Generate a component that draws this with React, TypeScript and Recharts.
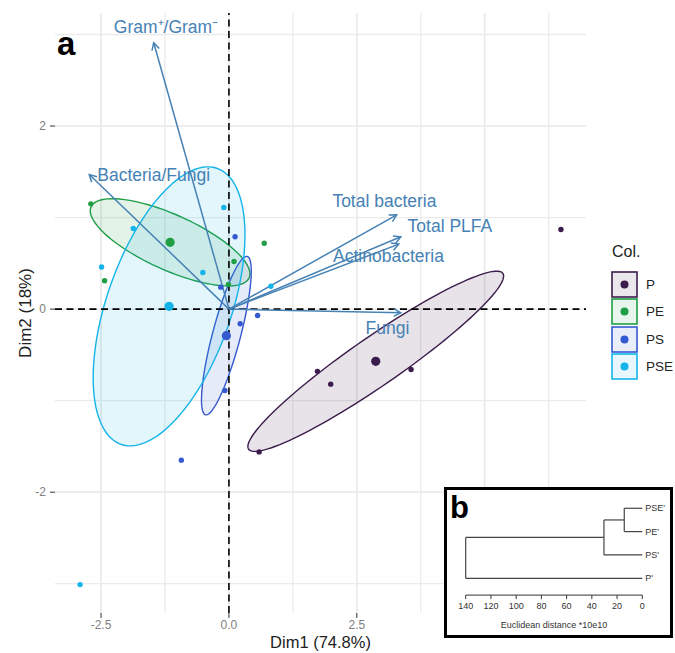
import React from "react";
import { ScatterChart, Scatter, XAxis, YAxis, ReferenceLine, Legend } from "recharts";

const FONT = '"Liberation Sans", Arial, sans-serif';

const groups = ["P", "PE", "PS", "PSE"];
const groupColors = ["#3b1c4c", "#1f9e45", "#3559d0", "#14b4ea"];

// individual scores, Dim1 / Dim2
const pDim1 = [6.49, 1.73, 1.99, 3.56, 0.59];
const pDim2 = [0.87, -0.68, -0.82, -0.66, -1.56];
const peDim1 = [-2.7, -2.43, 0.69, 0.1, -0.01];
const peDim2 = [1.15, 0.31, 0.72, 0.52, 0.27];
const psDim1 = [0.12, -0.16, 0.56, 0.22, -0.08, -0.93];
const psDim2 = [0.79, 0.24, -0.07, -0.16, -0.89, -1.65];
const pseDim1 = [-0.1, -1.87, -2.49, -0.51, 0.82, -2.91];
const pseDim2 = [1.11, 0.88, 0.46, 0.4, 0.25, -3.01];

// group centroids
const meanDim1 = [2.87, -1.15, -0.05, -1.17];
const meanDim2 = [-0.57, 0.73, -0.29, 0.03];

// concentration ellipses (semi axes + rotation in degrees)
const ellA = [2.67, 1.6, 0.96, 1.85];
const ellB = [0.3, 0.32, 0.255, 1.05];
const ellAngle = [20.7, -13, 63.4, 46.5];

// variables (arrow tips) and where their labels sit
const varNames = ["Gram⁺/Gram⁻", "Bacteria/Fungi", "Total bacteria", "Total PLFA", "Actinobacteria", "Fungi"];
const varDim1 = [-1.47, -2.73, 3.28, 3.36, 3.32, 3.36];
const varDim2 = [2.91, 1.47, 1.03, 0.79, 0.71, -0.04];
const labDim1 = [-1.23, -1.47, 3.04, 4.32, 3.12, 3.1];
const labDim2 = [3.08, 1.47, 1.18, 0.91, 0.58, -0.2];

const xTicks = [-2.5, 0, 2.5, 5];
const yTicks = [-2, 0, 2];
const xMajor = [-2.5, 0, 2.5, 5];
const xMinor = [-1.25, 1.25, 3.75, 6.25];
const yMajor = [-2, 0, 2];
const yMinor = [-3, -1, 1, 3];

// dendrogram (hclust style merge table)
const leaves = ["PSE'", "PE'", "PS'", "P'"];
const merge = [[-1, -2], [1, -3], [2, -4]];
const heights = [14.3, 30.4, 140];
const distTicks = [0, 20, 40, 60, 80, 100, 120, 140];

const scores = [
  pDim1.map((x, i) => ({ x, y: pDim2[i] })),
  peDim1.map((x, i) => ({ x, y: peDim2[i] })),
  psDim1.map((x, i) => ({ x, y: psDim2[i] })),
  pseDim1.map((x, i) => ({ x, y: pseDim2[i] })),
];

const ellipse = (i: number) => {
  const th = (ellAngle[i] * Math.PI) / 180;
  const pts = [];
  for (let k = 0; k <= 120; k++) {
    const t = (k / 120) * 2 * Math.PI;
    const u = ellA[i] * Math.cos(t);
    const v = ellB[i] * Math.sin(t);
    pts.push({
      x: meanDim1[i] + u * Math.cos(th) - v * Math.sin(th),
      y: meanDim2[i] + u * Math.sin(th) + v * Math.cos(th),
    });
  }
  return pts;
};

const labels = varNames.map((label, i) => ({ x: labDim1[i], y: labDim2[i], label }));

// dendrogram segments
const leafY = (id: number) => leaves.length - (-id - 1);
const mergeY: number[] = [];
const dendroSegs: { x: number; y: number }[][] = [];
merge.forEach(([a, b], k) => {
  const h = heights[k];
  const ya = a < 0 ? leafY(a) : mergeY[a - 1];
  const yb = b < 0 ? leafY(b) : mergeY[b - 1];
  const ha = a < 0 ? 0 : heights[a - 1];
  const hb = b < 0 ? 0 : heights[b - 1];
  mergeY[k] = (ya + yb) / 2;
  dendroSegs.push([{ x: ha, y: ya }, { x: h, y: ya }]);
  dendroSegs.push([{ x: hb, y: yb }, { x: h, y: yb }]);
  dendroSegs.push([{ x: h, y: ya }, { x: h, y: yb }]);
});
const leafPts = leaves.map((name, i) => ({ x: 0, y: leaves.length - i, name }));

const ARROW = "#4682b4";

const arrowShape = (p: any) => {
  const { x1, y1, x2, y2 } = p;
  const ang = Math.atan2(y2 - y1, x2 - x1);
  const len = 8;
  const a1 = ang + Math.PI - 0.5;
  const a2 = ang + Math.PI + 0.5;
  return (
    <g stroke={ARROW} strokeWidth={1.5} fill="none">
      <line x1={x1} y1={y1} x2={x2} y2={y2} />
      <polyline
        points={`${x2 + len * Math.cos(a1)},${y2 + len * Math.sin(a1)} ${x2},${y2} ${x2 + len * Math.cos(a2)},${y2 + len * Math.sin(a2)}`}
      />
    </g>
  );
};

const renderLegend = () => (
  <div style={{ position: "relative", width: 65, height: 145, fontFamily: FONT, color: "#222" }}>
    <div style={{ position: "absolute", left: 2, top: 3, fontSize: 16 }}>Col.</div>
    {groups.map((g, i) => (
      <div
        key={g}
        style={{ position: "absolute", left: 1, top: 30.5 + i * 27.6, display: "flex", alignItems: "center" }}
      >
        <svg width={27} height={27}>
          <rect x={1} y={1} width={25} height={25} fill={groupColors[i]} fillOpacity={0.1} stroke={groupColors[i]} strokeWidth={1.6} />
          <circle cx={13.5} cy={13.5} r={4} fill={groupColors[i]} />
        </svg>
        <span style={{ marginLeft: 8, fontSize: 13.5, whiteSpace: "nowrap" }}>{g}</span>
      </div>
    ))}
  </div>
);

export default function App() {
  return (
    <div style={{ position: "absolute", left: 0, top: 0, width: 675, height: 653, background: "#fff", fontFamily: FONT, overflow: "hidden" }}>
      <ScatterChart width={675} height={653} margin={{ top: 13, right: 89, bottom: 0, left: 0 }}>
        <XAxis
          type="number"
          dataKey="x"
          domain={[-3.4, 6.98]}
          allowDataOverflow
          ticks={xTicks}
          tickFormatter={(v: number) => v.toFixed(1)}
          axisLine={false}
          tickLine={{ stroke: "#333" }}
          tickSize={5}
          tick={{ fill: "#7f7f7f", fontSize: 12, fontFamily: FONT }}
          height={40}
          label={{
            content: (p: any) => (
              <text x={p.viewBox.x + p.viewBox.width / 2} y={648} textAnchor="middle" fontSize={16.5} fill="#222" fontFamily={FONT}>
                Dim1 (74.8%)
              </text>
            ),
          }}
        />
        <YAxis
          type="number"
          dataKey="y"
          domain={[-3.32, 3.235]}
          allowDataOverflow
          ticks={yTicks}
          axisLine={false}
          tickLine={{ stroke: "#333" }}
          tickSize={5}
          tickMargin={4}
          tick={{ fill: "#7f7f7f", fontSize: 12, fontFamily: FONT }}
          width={55}
          label={{
            content: (p: any) => {
              const cy = p.viewBox.y + p.viewBox.height / 2;
              return (
                <text x={31} y={cy} transform={`rotate(-90 31 ${cy})`} textAnchor="middle" fontSize={17} fill="#222" fontFamily={FONT}>
                  Dim2 (18%)
                </text>
              );
            },
          }}
        />
        {xMajor.map((v) => (
          <ReferenceLine key={"xM" + v} x={v} stroke="#ebebeb" strokeWidth={1.8} zIndex={-50} />
        ))}
        {xMinor.map((v) => (
          <ReferenceLine key={"xm" + v} x={v} stroke="#ebebeb" strokeWidth={1.3} zIndex={-50} />
        ))}
        {yMajor.map((v) => (
          <ReferenceLine key={"yM" + v} y={v} stroke="#ebebeb" strokeWidth={1.8} zIndex={-50} />
        ))}
        {yMinor.map((v) => (
          <ReferenceLine key={"ym" + v} y={v} stroke="#ebebeb" strokeWidth={1.3} zIndex={-50} />
        ))}
        {groups.map((g, i) => (
          <Scatter
            key={"ell" + g}
            data={ellipse(i)}
            isAnimationActive={false}
            zIndex={100}
            legendType="none"
            shape={() => <g />}
            line={(p: any) => (
              <path
                d={p.points.map((pt: any, k: number) => `${k ? "L" : "M"}${pt.x},${pt.y}`).join("") + "Z"}
                fill={groupColors[i]}
                fillOpacity={0.12}
                stroke={groupColors[i]}
                strokeWidth={1.4}
              />
            )}
          />
        ))}
        <ReferenceLine x={0} stroke="#000" strokeDasharray="7 4.5" strokeWidth={1.6} zIndex={200} />
        <ReferenceLine y={0} stroke="#000" strokeDasharray="7 4.5" strokeWidth={1.6} zIndex={200} />
        {varNames.map((n, i) => (
          <ReferenceLine
            key={n}
            segment={[{ x: 0, y: 0 }, { x: varDim1[i], y: varDim2[i] }]}
            ifOverflow="visible"
            shape={arrowShape}
            zIndex={300}
          />
        ))}
        {groups.map((g, i) => (
          <Scatter
            key={g}
            name={g}
            data={scores[i]}
            isAnimationActive={false}
            zIndex={600}
            shape={(p: any) => <circle cx={p.cx} cy={p.cy} r={2.7} fill={groupColors[i]} />}
          />
        ))}
        {groups.map((g, i) => (
          <Scatter
            key={"m" + g}
            data={[{ x: meanDim1[i], y: meanDim2[i] }]}
            isAnimationActive={false}
            legendType="none"
            zIndex={610}
            shape={(p: any) => <circle cx={p.cx} cy={p.cy} r={4.6} fill={groupColors[i]} />}
          />
        ))}
        <Scatter
          data={labels}
          isAnimationActive={false}
          legendType="none"
          zIndex={700}
          shape={(p: any) => (
            <text x={p.cx} y={p.cy} dy="0.36em" textAnchor="middle" fontSize={17.5} fill={ARROW} fontFamily={FONT}>
              {p.payload.label}
            </text>
          )}
        />
        <Legend
          layout="vertical"
          align="center"
          verticalAlign="middle"
          width={65}
          height={145}
          wrapperStyle={{ left: 610, top: 240, width: 65 }}
          content={renderLegend}
        />
      </ScatterChart>

      <svg style={{ position: "absolute", left: 50, top: 20 }} width={40} height={45}>
        <text x={7} y={35} fontSize={33} fontWeight="bold" fill="#000" fontFamily={FONT}>a</text>
      </svg>

      <div
        style={{
          position: "absolute",
          left: 444,
          top: 487,
          width: 229,
          height: 151,
          border: "3px solid #000",
          boxSizing: "border-box",
          background: "#fff",
        }}
      />
      <div style={{ position: "absolute", left: 444, top: 487 }}>
        <ScatterChart width={229} height={151} margin={{ top: 9.6, right: 30.7, bottom: 0, left: 21.7 }}>
          <XAxis
            type="number"
            dataKey="x"
            domain={[0, 140]}
            reversed
            ticks={distTicks}
            axisLine={{ stroke: "#333" }}
            tickLine={{ stroke: "#333" }}
            tickSize={4}
            tickMargin={4}
            tick={{ fill: "#333", fontSize: 9, fontFamily: FONT }}
            height={42.9}
            label={{ value: "Euclidean distance *10e10", position: "insideBottom", offset: 10, fontSize: 9, fill: "#333", fontFamily: FONT }}
          />
          <YAxis type="number" dataKey="y" domain={[0.28, 4.5]} hide />
          {dendroSegs.map((s, k) => (
            <ReferenceLine key={k} segment={s} ifOverflow="visible" stroke="#444" strokeWidth={1.2} />
          ))}
          <Scatter
            data={leafPts}
            isAnimationActive={false}
            shape={(p: any) => (
              <text x={p.cx + 3} y={p.cy} dy="0.35em" fontSize={9} fill="#333" fontFamily={FONT}>
                {p.payload.name}
              </text>
            )}
          />
        </ScatterChart>
        <svg style={{ position: "absolute", left: 0, top: 0 }} width={50} height={40}>
          <text x={6} y={31} fontSize={31} fontWeight="bold" fill="#000" fontFamily={FONT}>b</text>
        </svg>
      </div>
    </div>
  );
}
